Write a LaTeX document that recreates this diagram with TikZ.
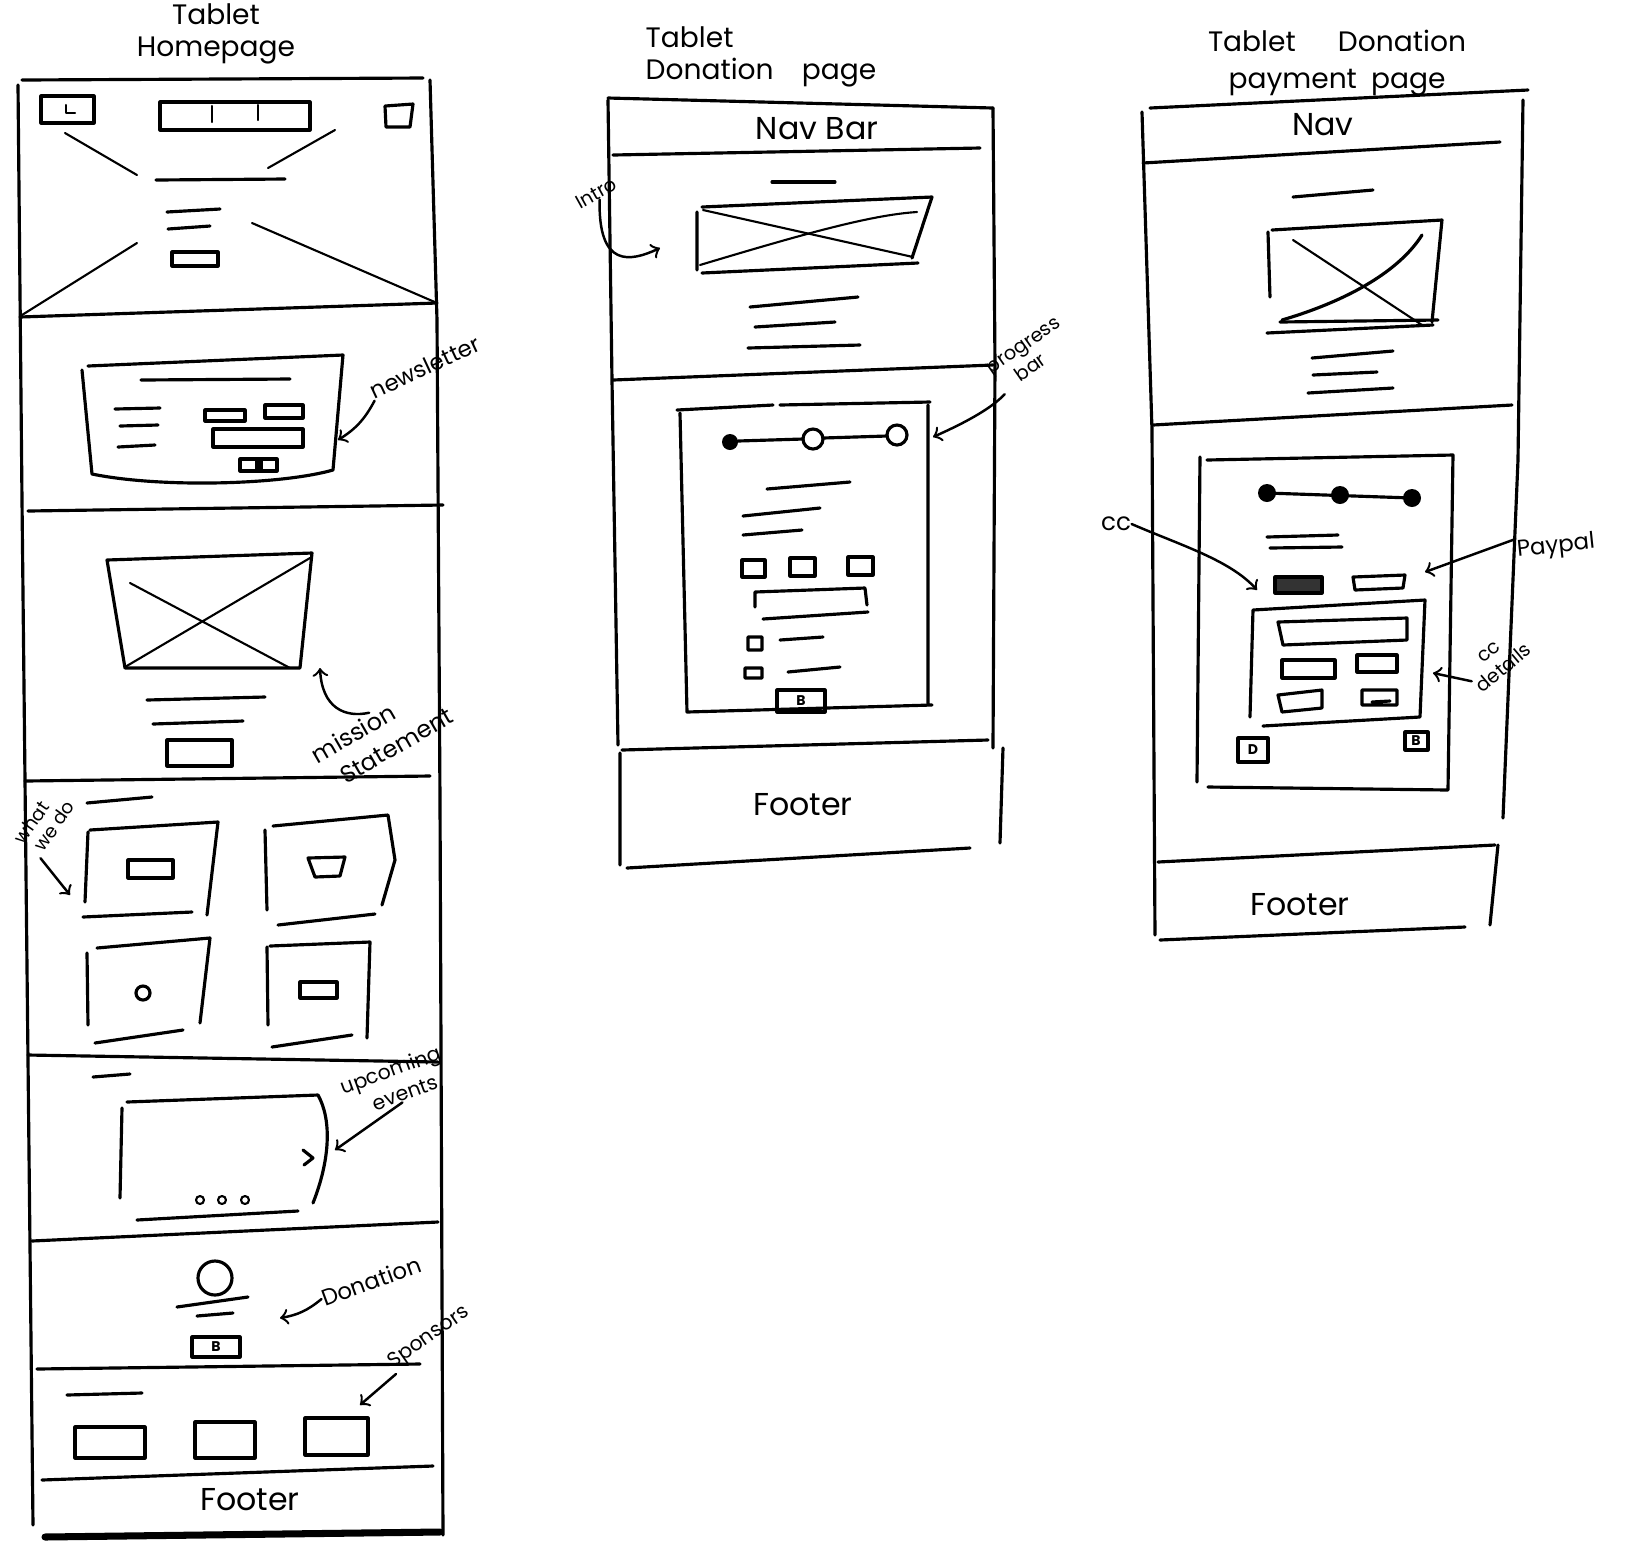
\documentclass[tikz,border=0pt]{standalone}
\usepackage{fontspec}
\setmainfont{Poppins}

\begin{document}
\begin{tikzpicture}[x=0.1mm,y=-0.1mm]
   \tikzstyle{sketch}=[line width=0.9pt, line cap=round, line join=round]
   \tikzstyle{faint}=[line width=0.6pt, line cap=round, line join=round]
   \tikzstyle{heavy}=[line width=2pt, line cap=round]
   \tikzstyle{pagetitle}=[font=\fontsize{8}{9}\selectfont, align=left, inner sep=0pt]
   \tikzstyle{pagetext}=[font=\fontsize{9}{10}\selectfont, inner sep=0pt]
   \tikzstyle{remark}=[font=\fontsize{6.5}{8}\selectfont, align=left, inner sep=0pt]
   \tikzstyle{smallremark}=[font=\fontsize{5.5}{6}\selectfont, align=left, inner sep=0pt]
   \tikzstyle{pointer}=[->, line width=0.7pt, line cap=round]
   \tikzstyle{btnmark}=[font=\fontsize{4}{4}\selectfont\bfseries, inner sep=0pt]

\useasboundingbox (0,0) rectangle (1634,1562);

\node[pagetitle, align=center] (hometitle) at (216,34) {Tablet\\Homepage};
\draw[sketch] (22,80) -- (423,78);
\draw[sketch] (18,85) -- (22,500) -- (28,1060) -- (33,1525);
\draw[sketch] (430,80) -- (437,320) -- (440,800) -- (443,1535);

\draw[sketch] (41,96) rectangle (94,123);
\draw[faint] (66,105) -- (66,113) -- (75,113);
\draw[sketch] (160,102) rectangle (310,130);
\draw[faint] (212,106) -- (212,122) (258,105) -- (258,120);
\draw[sketch] (385,106) -- (413,104) -- (410,127) -- (386,127) -- cycle;
\draw[faint] (65,133) -- (137,175) (335,130) -- (268,168);
\draw[faint] (137,243) -- (22,315) (252,223) -- (437,303);
\draw[sketch] (156,180) -- (285,179);
\draw[sketch] (167,212) -- (220,209) (168,229) -- (210,226);
\draw[sketch] (172,252) rectangle (218,266);
\draw[sketch] (20,317) -- (437,303);

\draw[sketch] (82,370) -- (92,474) .. controls (160,488) and (280,485) .. (333,470) -- (343,355) -- (88,366);
\draw[sketch] (141,380) -- (290,379);
\draw[sketch] (115,409) -- (160,408) (120,426) -- (158,425) (118,447) -- (155,445);
\draw[sketch] (205,410) rectangle (245,421);
\draw[sketch] (265,405) rectangle (303,418);
\draw[sketch] (213,429) rectangle (303,447);
\draw[sketch] (240,459) rectangle (277,471);
\fill (255,461) rectangle (263,469);
\node[remark, rotate=25] (newsletter) at (425,367) {newsletter};
\coordinate (nltip) at (338,440);
\draw[pointer] (newsletter.south west) to[bend left=15] (nltip);
\draw[sketch] (28,511) -- (443,505);

\draw[sketch] (107,560) -- (312,553) -- (300,668) -- (125,668) -- cycle;
\draw[faint] (130,583) -- (290,668) (310,558) -- (125,667);
\draw[sketch] (147,700) -- (265,697) (153,724) -- (243,721);
\draw[sketch] (167,740) rectangle (232,766);
\node[remark, rotate=30, font=\fontsize{6.8}{9}\selectfont] (mstmt) at (382,735) {mission\\\hspace{0.6em}Statement};
\coordinate (mtip) at (320,668);
\draw[pointer] (mstmt.north) .. controls (345,718) and (322,708) .. (mtip);
\draw[sketch] (25,781) -- (430,776);

\draw[sketch] (87,803) -- (152,797);
\draw[sketch] (88,832) -- (85,902) (90,830) -- (218,822) -- (207,915) (83,917) -- (192,912);
\draw[sketch] (265,830) -- (267,910) (273,826) -- (388,815) -- (395,860) -- (382,905) (278,925) -- (375,914);
\draw[sketch] (87,953) -- (88,1025) (97,948) -- (210,938) -- (200,1023) (95,1043) -- (183,1030);
\draw[sketch] (267,947) -- (268,1025) (270,946) -- (370,942) -- (367,1038) (272,1047) -- (352,1035);
\draw[sketch] (128,860) rectangle (173,878);
\draw[sketch] (308,858) -- (345,857) -- (340,876) -- (315,877) -- cycle;
\draw[sketch] (143,993) circle[radius=0.7mm];
\draw[sketch] (300,982) rectangle (337,998);
\node[smallremark, rotate=55, font=\fontsize{5.3}{5.8}\selectfont] (wwd) at (44,822) {what\\\hspace{0.3em}we do};
\coordinate (wwdtip) at (70,895);
\draw[pointer] (wwd.south west) -- (wwdtip);
\draw[sketch] (28,1055) -- (438,1062);

\draw[sketch] (93,1077) -- (130,1074);
\draw[sketch] (122,1108) -- (120,1198) (127,1102) -- (318,1095) .. controls (332,1120) and (330,1160) .. (313,1203);
\draw[sketch] (137,1220) -- (298,1211);
\draw[sketch] (303,1150) -- (313,1158) -- (304,1165);
\foreach \cx in {200,222,245}
   \draw[faint] (\cx,1200) circle[radius=0.4mm];
\node[smallremark, rotate=20, font=\fontsize{5.8}{7.5}\selectfont] (events) at (395,1082) {upcoming\\\hspace{1.2em}events};
\coordinate (evtip) at (335,1150);
\draw[pointer] (events.south) -- (evtip);
\draw[sketch] (32,1241) -- (438,1222);

\draw[sketch] (215,1278) circle[radius=1.7mm];
\draw[sketch] (177,1307) -- (248,1297) (197,1316) -- (233,1313);
\draw[sketch] (192,1337) rectangle (240,1357);
\node[btnmark] (donbtn) at (216,1347) {B};
\node[remark, rotate=20] (donation) at (371,1281) {Donation};
\coordinate (dontip) at (280,1318);
\draw[pointer] (donation.west) to[bend left=15] (dontip);
\draw[sketch] (37,1369) -- (420,1364);

\node[smallremark, rotate=35, font=\fontsize{5.8}{6}\selectfont] (sponsors) at (429,1338) {Sponsors};
\coordinate (sptip) at (360,1405);
\draw[pointer] (sponsors.south west) -- (sptip);
\draw[sketch] (67,1395) -- (142,1393);
\draw[sketch] (75,1427) rectangle (145,1458);
\draw[sketch] (195,1422) rectangle (255,1458);
\draw[sketch] (305,1418) rectangle (368,1455);
\draw[sketch] (42,1480) -- (433,1466);
\node[pagetext] (homefooter) at (250,1500) {Footer};
\draw[heavy] (45,1537) -- (440,1532);

\node[pagetitle, anchor=north west] (dontitle) at (645,26) {Tablet\\Donation\quad page};
\draw[sketch] (608,98) -- (993,108);
\draw[sketch] (608,100) -- (612,380) -- (618,745);
\draw[sketch] (993,108) -- (995,365) -- (993,748);
\node[pagetext] (donnav) at (817,129) {Nav Bar};
\draw[sketch] (613,155) -- (980,148);
\draw[sketch] (772,182) -- (835,182);
\draw[sketch] (697,212) -- (697,270) (702,207) -- (932,197) -- (912,258) (702,273) -- (918,263);
\draw[faint] (703,210) -- (913,257);
\draw[faint] (700,265) .. controls (800,235) and (870,215) .. (917,212);
\draw[sketch] (750,307) -- (858,297) (755,327) -- (835,322) (748,348) -- (860,345);
\node[smallremark, rotate=29] (intro) at (596,193) {Intro};
\coordinate (introtip) at (660,248);
\draw[pointer] (intro.south) .. controls (598,268) and (630,262) .. (introtip);
\draw[sketch] (613,380) -- (993,365);

\draw[sketch] (677,410) -- (773,405) (780,405) -- (930,402);
\draw[sketch] (680,413) -- (687,712) -- (932,705) (928,405) -- (928,703);
\fill (730,442) circle[radius=0.8mm];
\draw[sketch] (813,439) circle[radius=1mm] (897,435) circle[radius=1mm];
\draw[sketch] (738,441) -- (803,439) (823,438) -- (887,436);
\draw[sketch] (767,489) -- (850,482) (743,516) -- (820,508) (743,535) -- (802,530);
\draw[sketch] (742,560) rectangle (765,577);
\draw[sketch] (790,558) rectangle (815,576);
\draw[sketch] (848,557) rectangle (873,575);
\draw[sketch] (755,607) -- (755,592) -- (865,588) -- (867,605) (763,619) -- (868,612);
\draw[sketch] (748,637) rectangle (762,650) (780,640) -- (823,637);
\draw[sketch] (745,668) rectangle (762,678) (788,672) -- (840,667);
\draw[sketch] (777,690) rectangle (825,712);
\node[btnmark] (donpgbtn) at (801,701) {B};
\node[smallremark, rotate=35, font=\fontsize{5.5}{6.5}\selectfont] (progress) at (1030,355) {progress\\\hspace{1em}bar};
\coordinate (progtip) at (933,437);
\draw[pointer] (progress.south west) .. controls (990,410) and (960,425) .. (progtip);
\draw[sketch] (622,750) -- (988,740);
\draw[sketch] (620,753) -- (620,865) (1003,748) -- (1000,843) (627,868) -- (970,848);
\node[pagetext] (donfooter) at (803,805) {Footer};

\node[pagetitle, align=center, font=\fontsize{8}{10.5}\selectfont] (paytitle) at (1337,63) {Tablet\quad\enspace Donation\\payment\enspace page};
\draw[sketch] (1150,108) -- (1528,90);
\draw[sketch] (1142,112) -- (1152,430) -- (1155,935);
\draw[sketch] (1523,100) -- (1518,460) -- (1503,818);
\node[pagetext] (paynav) at (1323,125) {Nav};
\draw[sketch] (1143,163) -- (1500,142);
\draw[sketch] (1293,197) -- (1373,190);
\draw[sketch] (1268,232) -- (1270,297) (1272,230) -- (1442,220) -- (1432,322) (1280,322) -- (1438,320) (1267,333) -- (1433,325);
\draw[faint] (1293,240) -- (1422,325);
\draw[sketch] (1282,320) .. controls (1350,300) and (1400,270) .. (1422,235);
\draw[sketch] (1312,358) -- (1393,351) (1313,375) -- (1377,372) (1308,393) -- (1393,388);
\draw[sketch] (1153,425) -- (1512,405);

\draw[sketch] (1207,460) -- (1453,455) -- (1448,790) -- (1208,787) (1200,457) -- (1197,782);
\draw[sketch] (1267,493) -- (1412,498);
\foreach \cx/\cy in {1267/493,1340/495,1412/498}
   \fill (\cx,\cy) circle[radius=0.9mm];
\draw[sketch] (1267,537) -- (1338,535) (1270,548) -- (1342,547);
\draw[sketch, fill=black!80] (1275,577) rectangle (1322,593);
\draw[sketch] (1353,577) -- (1405,575) -- (1403,588) -- (1355,590) -- cycle;
\draw[sketch] (1253,610) -- (1425,600) -- (1420,717) -- (1263,726) (1253,610) -- (1250,717);
\draw[sketch] (1278,622) -- (1407,618) -- (1407,640) -- (1283,645) -- cycle;
\draw[sketch] (1282,660) rectangle (1335,678);
\draw[sketch] (1357,655) rectangle (1397,672);
\draw[sketch] (1278,695) -- (1322,690) -- (1322,708) -- (1282,712) -- cycle;
\draw[sketch] (1362,690) rectangle (1397,705) (1372,702) -- (1390,701);
\draw[sketch] (1238,738) rectangle (1268,762);
\node[btnmark] (backbtn) at (1253,750) {D};
\draw[sketch] (1405,732) rectangle (1428,750);
\node[btnmark] (nextbtn) at (1416,741) {B};
\node[remark, font=\fontsize{7}{8}\selectfont] (cc) at (1116,524) {cc};
\coordinate (cctip) at (1257,590);
\draw[pointer] (cc.east) .. controls (1180,545) and (1230,560) .. (cctip);
\node[remark, rotate=6] (paypal) at (1556,547) {Paypal};
\coordinate (pptip) at (1425,572);
\draw[pointer] (paypal.north west) -- (pptip);
\node[smallremark, rotate=40, font=\fontsize{5.5}{6.5}\selectfont] (ccdetails) at (1497,660) {\hspace{1em}cc\\details};
\coordinate (ccdtip) at (1433,673);
\draw[pointer] (ccdetails.west) -- (ccdtip);
\draw[sketch] (1158,862) -- (1495,845);
\draw[sketch] (1498,845) -- (1490,925) (1160,940) -- (1465,927);
\node[pagetext] (payfooter) at (1300,905) {Footer};

\end{tikzpicture}
\end{document}
